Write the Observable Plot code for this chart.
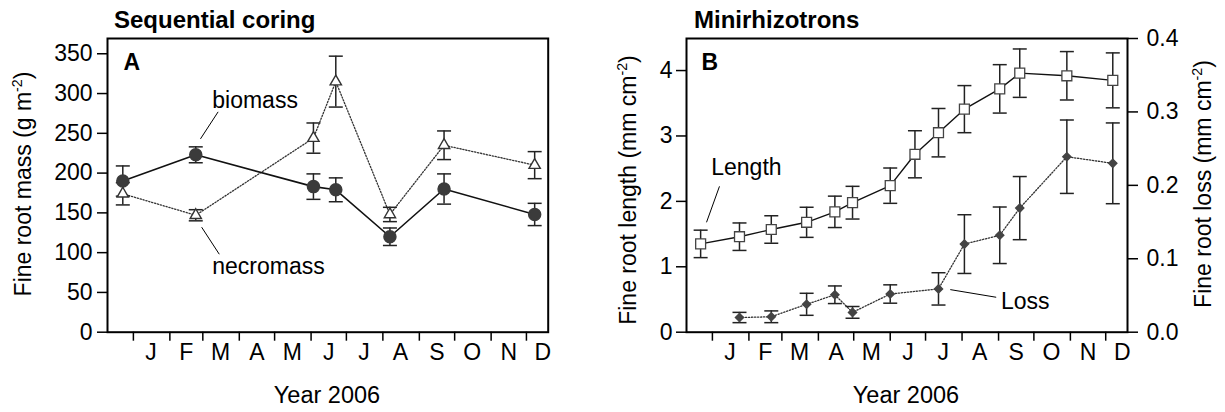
<!DOCTYPE html>
<html>
<head>
<meta charset="utf-8">
<script src="https://cdn.jsdelivr.net/npm/d3@7"></script>
<script src="https://cdn.jsdelivr.net/npm/@observablehq/plot@0.6"></script>
<style>
  body { margin: 0; background: #fff; }
  #root { position: relative; width: 1225px; height: 412px; overflow: hidden; font-family: "Liberation Sans", Arial, sans-serif; color: #000; background: #fff; }
  .abs { position: absolute; white-space: nowrap; line-height: 1; }
  .title { font-weight: bold; font-size: 24px; transform: translateY(-50%); }
  .rot { transform: translate(-50%, -50%) rotate(-90deg); font-size: 23px; }
  .xt { transform: translate(-50%, -50%); font-size: 23.5px; }
  .sup { font-size: 0.62em; position: relative; top: -0.6em; }
  .panel { position: absolute; top: 0; }
</style>
</head>
<body>
<div id="root">
  <div id="pa" class="panel" style="left:0px"></div>
  <div id="pb1" class="panel" style="left:600px"></div>
  <div id="pb2" class="panel" style="left:600px"></div>
  <div class="abs title" style="left:114px; top:20px">Sequential coring</div>
  <div class="abs title" style="left:694px; top:20px">Minirhizotrons</div>
  <div class="abs rot" style="left:23px; top:184px">Fine root mass (g m<span class="sup">-2</span>)</div>
  <div class="abs rot" style="left:628px; top:190px">Fine root length (mm cm<span class="sup">-2</span>)</div>
  <div class="abs rot" style="left:1203px; top:184px">Fine root loss (mm cm<span class="sup">-2</span>)</div>
  <div class="abs xt" style="left:327px; top:396px">Year 2006</div>
  <div class="abs xt" style="left:906px; top:396px">Year 2006</div>
</div>
<script>
// ---------- Data ----------
const monthLabels = ["J", "F", "M", "A", "M", "J", "J", "A", "S", "O", "N", "D"];
const monthStarts = ["2006-01-01","2006-02-01","2006-03-01","2006-04-01","2006-05-01","2006-06-01","2006-07-01","2006-08-01","2006-09-01","2006-10-01","2006-11-01","2006-12-01"];
const monthMids = ["2006-01-16","2006-02-15","2006-03-16","2006-04-16","2006-05-16","2006-06-16","2006-07-16","2006-08-16","2006-09-16","2006-10-16","2006-11-16","2006-12-15"];

// Panel A: sequential coring
const coringDates = ["2005-12-23","2006-02-23","2006-06-03","2006-06-22","2006-08-07","2006-09-22","2006-12-08"];
const biomass     = [190, 223, 183, 179, 120, 180, 148];
const biomassSE   = [19, 10, 16, 15, 11, 19, 14];
const necromass   = [174, 147, 244, 315, 148, 235, 210];
const necromassSE = [14, 7, 19, 32, 9, 18, 17];
const massTicks   = [0, 50, 100, 150, 200, 250, 300, 350];

// Panel B: minirhizotrons
const rhizoDates = ["2005-12-22","2006-01-24","2006-02-20","2006-03-22","2006-04-15","2006-04-30","2006-06-01","2006-06-22","2006-07-12","2006-08-03","2006-09-02","2006-09-19","2006-10-29","2006-12-07"];
const rootLength   = [1.35, 1.46, 1.57, 1.68, 1.84, 1.98, 2.24, 2.72, 3.05, 3.41, 3.72, 3.96, 3.92, 3.85];
const rootLengthSE = [0.21, 0.21, 0.21, 0.23, 0.24, 0.25, 0.27, 0.36, 0.37, 0.36, 0.37, 0.37, 0.37, 0.42];
const lossDates = ["2006-01-24","2006-02-20","2006-03-22","2006-04-15","2006-04-30","2006-06-01","2006-07-12","2006-08-03","2006-09-02","2006-09-19","2006-10-29","2006-12-07"];
const rootLoss   = [0.020, 0.021, 0.038, 0.051, 0.027, 0.052, 0.059, 0.120, 0.132, 0.169, 0.239, 0.230];
const rootLossSE = [0.007, 0.008, 0.015, 0.012, 0.008, 0.0125, 0.022, 0.040, 0.0385, 0.043, 0.050, 0.055];
const lengthTicks = [0, 1, 2, 3, 4];
const lossTicks   = [0, 0.1, 0.2, 0.3, 0.4];

// Annotations (in data units)
const annotALabels = ["biomass", "necromass"];
const annotADates  = ["2006-03-09", "2006-03-09"];
const annotAValues = [291, 83];
const leaderAFromDates = ["2006-02-27", "2006-02-28"];
const leaderAFromValues = [243, 132];
const leaderAToDates = ["2006-03-14", "2006-03-15"];
const leaderAToValues = [277, 98];

const annotLengthLabel = ["Length"], annotLengthDate = ["2005-12-31"], annotLengthValue = [2.52];
const leaderLengthFrom = ["2005-12-27", 1.68], leaderLengthTo = ["2006-01-07", 2.23];
const annotLossLabel = ["Loss"], annotLossDate = ["2006-09-03"], annotLossValue = [0.042];
const leaderLossFrom = ["2006-07-22", 0.058], leaderLossTo = ["2006-08-30", 0.0476];

// ---------- Helpers ----------
const parse = d3.utcParse("%Y-%m-%d");
const xDomain = [parse("2005-12-10"), new Date(Date.UTC(2006, 11, 19, 12))];
const starts = monthStarts.map(parse);
const mids = monthMids.map(parse);
const capSymbol = { draw(ctx, size) { const r = Math.sqrt(size / Math.PI); ctx.moveTo(-r, 0); ctx.lineTo(r, 0); } };
const font = "'Liberation Sans', Arial, sans-serif";
const W_A = 600, W_B = 625, H = 412;
const MT = 38, MB = 80.3;

function commonX() {
  return [
    Plot.axisX({ticks: starts, tickSize: 9, tickFormat: () => "", strokeWidth: 1.5, label: null}),
    Plot.axisX({ticks: mids, tickSize: 0, tickPadding: 11, tickFormat: d => monthLabels[d.getUTCMonth()], label: null})
  ];
}
function errorBars(rows, v, se) {
  return [
    Plot.ruleX(rows, {x: "date", y1: d => d[v] - d[se], y2: d => d[v] + d[se], stroke: "#222", strokeWidth: 1.5}),
    Plot.dot(rows, {x: "date", y: d => d[v] + d[se], symbol: capSymbol, r: 7, stroke: "#222", strokeWidth: 1.5, fill: "none"}),
    Plot.dot(rows, {x: "date", y: d => d[v] - d[se], symbol: capSymbol, r: 7, stroke: "#222", strokeWidth: 1.5, fill: "none"})
  ];
}

// ---------- Panel A ----------
const rowsA = coringDates.map((d, i) => ({date: parse(d), bio: biomass[i], bioSE: biomassSE[i], nec: necromass[i], necSE: necromassSE[i]}));
const annA = annotALabels.map((t, i) => ({label: t, date: parse(annotADates[i]), value: annotAValues[i]}));
const leadA = leaderAFromDates.map((d, i) => ({x1: parse(d), y1: leaderAFromValues[i], x2: parse(leaderAToDates[i]), y2: leaderAToValues[i]}));

const plotA = Plot.plot({
  width: W_A, height: H,
  marginLeft: 107, marginRight: 52.3, marginTop: MT, marginBottom: MB,
  style: {fontFamily: font, fontSize: "23px", color: "#000", background: "transparent"},
  x: {type: "utc", domain: xDomain, axis: null},
  y: {domain: [0, 369.2], axis: null},
  marks: [
    Plot.axisY({ticks: massTicks, tickSize: 10, tickPadding: 5, strokeWidth: 1.5, label: null, tickFormat: d => String(d)}),
    ...commonX(),
    Plot.line(rowsA, {x: "date", y: "nec", stroke: "#333", strokeWidth: 1.3, strokeDasharray: "1.3,1.7"}),
    Plot.line(rowsA, {x: "date", y: "bio", stroke: "#111", strokeWidth: 1.6}),
    ...errorBars(rowsA, "nec", "necSE"),
    ...errorBars(rowsA, "bio", "bioSE"),
    Plot.dot(rowsA, {x: "date", y: "nec", symbol: "triangle", r: 4.2, stroke: "#333", strokeWidth: 1.4, fill: "white"}),
    Plot.dot(rowsA, {x: "date", y: "bio", symbol: "circle", r: 6, fill: "#3b3b3b", stroke: "#3b3b3b"}),
    Plot.link(leadA, {x1: "x1", y1: "y1", x2: "x2", y2: "y2", stroke: "#000", strokeWidth: 1}),
    Plot.text(annA, {x: "date", y: "value", text: "label", textAnchor: "start", lineAnchor: "middle", fontSize: 23}),
    Plot.text(["A"], {frameAnchor: "top-left", dx: 16, dy: 24, lineAnchor: "middle", textAnchor: "start", fontWeight: "bold", fontSize: 23}),
    Plot.frame({strokeWidth: 2, stroke: "#000"})
  ]
});
document.getElementById("pa").appendChild(plotA);

// ---------- Panel B ----------
const rowsL = rhizoDates.map((d, i) => ({date: parse(d), v: rootLength[i], se: rootLengthSE[i]}));
const rowsLoss = lossDates.map((d, i) => ({date: parse(d), v: rootLoss[i], se: rootLossSE[i]}));
const annL = annotLengthLabel.map((t, i) => ({label: t, date: parse(annotLengthDate[i]), value: annotLengthValue[i]}));
const leadL = [{x1: parse(leaderLengthFrom[0]), y1: leaderLengthFrom[1], x2: parse(leaderLengthTo[0]), y2: leaderLengthTo[1]}];
const annLoss = annotLossLabel.map((t, i) => ({label: t, date: parse(annotLossDate[i]), value: annotLossValue[i]}));
const leadLoss = [{x1: parse(leaderLossFrom[0]), y1: leaderLossFrom[1], x2: parse(leaderLossTo[0]), y2: leaderLossTo[1]}];

const plotB1 = Plot.plot({
  width: W_B, height: H,
  marginLeft: 86, marginRight: 98, marginTop: MT, marginBottom: MB,
  style: {fontFamily: font, fontSize: "23px", color: "#000", background: "transparent"},
  x: {type: "utc", domain: xDomain, axis: null},
  y: {domain: [0, 4.49], axis: null},
  marks: [
    Plot.axisY({ticks: lengthTicks, tickSize: 10, tickPadding: 4, strokeWidth: 1.5, label: null, tickFormat: d => String(d)}),
    ...commonX(),
    Plot.line(rowsL, {x: "date", y: "v", stroke: "#111", strokeWidth: 1.4}),
    ...errorBars(rowsL, "v", "se"),
    Plot.dot(rowsL, {x: "date", y: "v", symbol: "square", r: 5.6, stroke: "#444", strokeWidth: 1.3, fill: "white"}),
    Plot.link(leadL, {x1: "x1", y1: "y1", x2: "x2", y2: "y2", stroke: "#000", strokeWidth: 1}),
    Plot.text(annL, {x: "date", y: "value", text: "label", textAnchor: "start", lineAnchor: "middle", fontSize: 23}),
    Plot.text(["B"], {frameAnchor: "top-left", dx: 15, dy: 24, lineAnchor: "middle", textAnchor: "start", fontWeight: "bold", fontSize: 23}),
    Plot.frame({strokeWidth: 2, stroke: "#000"})
  ]
});
document.getElementById("pb1").appendChild(plotB1);

const plotB2 = Plot.plot({
  width: W_B, height: H,
  marginLeft: 86, marginRight: 98, marginTop: MT, marginBottom: MB,
  style: {fontFamily: font, fontSize: "23px", color: "#000", background: "transparent"},
  x: {type: "utc", domain: xDomain, axis: null},
  y: {domain: [0, 0.4], axis: null},
  marks: [
    Plot.axisY({anchor: "right", ticks: lossTicks, tickSize: 10, tickPadding: 9, strokeWidth: 1.5, label: null, tickFormat: d3.format(".1f")}),
    Plot.line(rowsLoss, {x: "date", y: "v", stroke: "#333", strokeWidth: 1.3, strokeDasharray: "1.3,1.7"}),
    ...errorBars(rowsLoss, "v", "se"),
    Plot.dot(rowsLoss, {x: "date", y: "v", symbol: "diamond2", r: 3.6, fill: "#444", stroke: "#444"}),
    Plot.link(leadLoss, {x1: "x1", y1: "y1", x2: "x2", y2: "y2", stroke: "#000", strokeWidth: 1}),
    Plot.text(annLoss, {x: "date", y: "value", text: "label", textAnchor: "start", lineAnchor: "middle", fontSize: 23})
  ]
});
document.getElementById("pb2").appendChild(plotB2);
</script>
</body>
</html>
